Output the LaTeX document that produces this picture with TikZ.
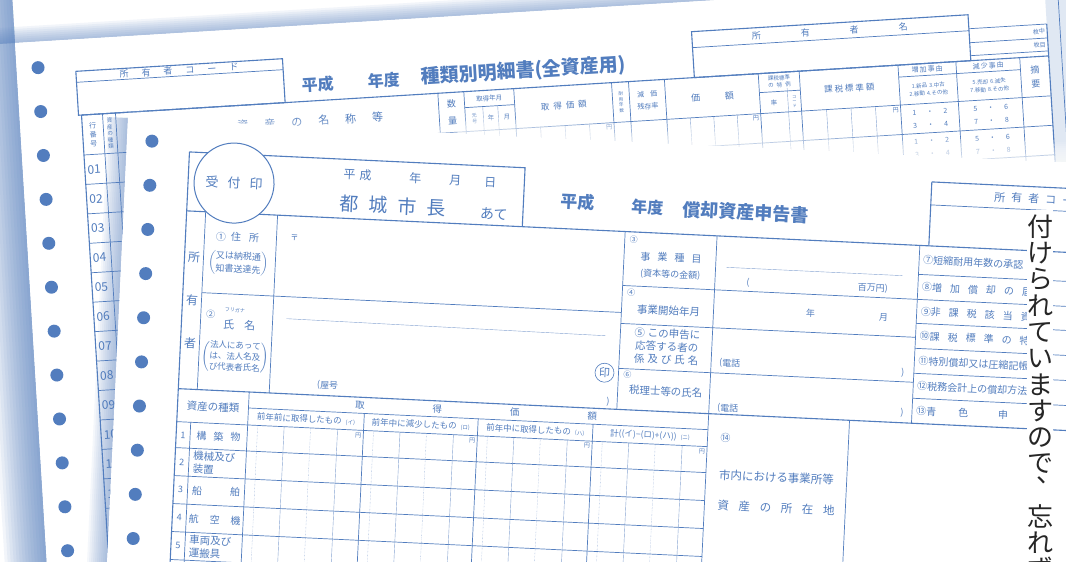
\documentclass[tikz,border=0pt]{standalone}
\usepackage{fontspec}
\setmainfont{Noto Sans CJK JP}
\definecolor{formblue}{RGB}{82,125,190}
\newcommand{\fgap}[1]{\hspace{#1}}

\begin{document}
\begin{tikzpicture}[
			x=1pt, y=-1pt,
			txt/.style={
				font=\fontsize{#1}{#1}\selectfont,
				text=formblue,
				inner sep=0pt
			},
			txt/.default=9,
			txtl/.style 2 args={
				font=\fontsize{#1}{#2}\selectfont,
				text=formblue,
				inner sep=0pt,
				align=center
			},
			frame/.style={draw=formblue, line width=1.1pt},
			rule/.style={draw=formblue, line width=0.7pt},
			fine/.style={draw=formblue!70, line width=0.4pt},
			hole/.style={fill=formblue},
			note/.style={
				font=\fontsize{26}{26}\selectfont,
				text=black!85,
				inner sep=0pt
			}]

	\useasboundingbox (0,0) rectangle (1066,562);
	\clip (0,0) rectangle (1066,562);
	\fill[white] (0,0) rectangle (1066,562);

	%%% Back sheet: detail form
	\begin{scope}[shift={(15,43)}, rotate=3.5, transform shape]
		% soft shadow along the paper edges
		\foreach \h in {2,4,...,16}
			\fill[formblue, opacity=0.07] (-60,-\h) rectangle (1200,0);
		\foreach \w in {3,6,...,42}
			\fill[formblue, opacity=0.07] (-\w,-60) rectangle (0,700);
		\fill[white] (0,0) rectangle (1200,700);

		% feed holes
		\foreach \i in {0,...,11}
			\fill[hole] (21.5,26+44*\i) circle (6.5);

		% owner code box and title
		\draw[frame] (59,32) rectangle (266,76);
		\draw[rule] (59,43) -- (266,43);
		\node[txt=9] (bcode) at (162,37.5) {所\fgap{13pt}有\fgap{13pt}者\fgap{13pt}コ\fgap{13pt}ー\fgap{13pt}ド};
		\node[txt=16] (byear) at (300,60) {\bfseries 平成};
		\node[txt=16] (bnendo) at (366,60) {\bfseries 年度};
		\node[txt=19, anchor=west] (btitle) at (403,59) {\bfseries 種類別明細書(全資産用)};

		% owner name and sheet count
		\draw[frame] (676,30) rectangle (953,76);
		\draw[rule] (676,46) -- (953,46);
		\node[txt=9] (bowner) at (814,38) {所\fgap{40pt}有\fgap{40pt}者\fgap{40pt}名};
		\draw[rule] (953,44) -- (1031,44) (953,58) -- (1031,58) (953,71) -- (1031,71);
		\node[txt=6, anchor=east] (bmaichu) at (1029,51) {枚中};
		\node[txt=6, anchor=east] (bmaime) at (1029,64.5) {枚目};
		\fill[formblue!18] (1031,-20) rectangle (1070,330);
		\draw[frame] (1031,44) -- (1031,330);
		\draw[rule] (1044,-20) -- (1044,330);
		\node[txtl={6}{7}] (bsono) at (1051,110) {そ\\の\\2};

		%%% table
		\draw[frame] (62,76) -- (1031,76);
		\draw[frame] (62,76) -- (62,700);
		\draw[rule] (62,116) -- (1031,116);
		\foreach \c in {83,96,419,445,495,593,610,646,740,781,880,938,1002}
			\draw[rule] (\c,76) -- (\c,700);
		\draw[rule] (445,92) -- (495,92) (740,95) -- (781,95) (880,88) -- (1002,88);
		\foreach \c in {463,478,768}
			\draw[fine] (\c,92) -- (\c,700);
		\foreach \c in {519.5,544,568.5,669.5,693,716.5,806,830.5,855}
			\draw[fine] (\c,116) -- (\c,700);
		\foreach \r in {1,...,20}
			\draw[rule] (62,116+29.5*\r) -- (1031,116+29.5*\r);

		% header texts
		\node[txtl={7}{9}] (bgyo) at (72.5,96) {行\\番\\号};
		\node[txtl={5.5}{6.5}] (bkind) at (89.5,96) {資\\産\\の\\種\\類};
		\node[txt=11] (bname) at (290,96) {資\fgap{16pt}産\fgap{16pt}の\fgap{16pt}名\fgap{16pt}称\fgap{16pt}等};
		\node[txtl={9}{17}] (bqty) at (432,96) {数\\量};
		\node[txt=6.5] (bym) at (470,84) {取得年月};
		\node[txtl={5}{6}] (bera) at (454,104) {元\\号};
		\node[txt=6.5] (bnen) at (470.5,104) {年};
		\node[txt=6.5] (btsuki) at (486.5,104) {月};
		\node[txt=8.5] (bcost) at (544,96) {取\fgap{4pt}得\fgap{4pt}価\fgap{4pt}額};
		\node[txtl={4.5}{5.5}] (blife) at (601.5,96) {耐\\用\\年\\数};
		\node[txtl={7}{12}] (brate) at (628,96) {減\fgap{6pt}価\\残存率};
		\node[txt=9] (bvalue) at (693,96) {価\fgap{25pt}額};
		\node[txtl={5.5}{7}] (bspecial) at (760.5,85) {課税標準\\の\fgap{3pt}特\fgap{3pt}例};
		\node[txt=6.5] (britsu) at (754,106) {率};
		\node[txtl={4}{4.5}] (bcodecol) at (774.5,106) {コ\\ー\\ド};
		\node[txt=8.5] (bbase) at (830,96) {課\fgap{2pt}税\fgap{2pt}標\fgap{2pt}準\fgap{2pt}額};
		\node[txt=7] (bup) at (909,82) {増\fgap{1pt}加\fgap{1pt}事\fgap{1pt}由};
		\node[txtl={5.5}{8}] (bupkeys) at (909,102) {1.新品\fgap{2pt}3.中古\\2.移動\fgap{2pt}4.その他};
		\node[txt=7] (bdown) at (970,82) {減\fgap{1pt}少\fgap{1pt}事\fgap{1pt}由};
		\node[txtl={5.5}{8}] (bdownkeys) at (970,102) {5.売却\fgap{2pt}6.滅失\\7.移動\fgap{2pt}8.その他};
		\node[txtl={9}{14}] (bnote) at (1016.5,96) {摘\\要};

		% rows
		\foreach \n [count=\i from 0] in {01,02,03,04,05,06,07,08,09,10,11,12}
			\node[txt=12, anchor=west] (brow\i) at (64.5,131+29.5*\i) {\n};
		\foreach \c in {593,740,880}
			\node[txt=6] (byen\c) at (\c-5,120.5) {円};
		\foreach \r in {0,...,3} {
			\node[txt=7] (bupa\r) at (909,124.5+29.5*\r) {1\fgap{10pt}・\fgap{10pt}2};
			\node[txt=7] (bupb\r) at (909,137.5+29.5*\r) {3\fgap{10pt}・\fgap{10pt}4};
			\node[txt=7] (bdna\r) at (970,124.5+29.5*\r) {5\fgap{10pt}・\fgap{10pt}6};
			\node[txt=7] (bdnb\r) at (970,137.5+29.5*\r) {7\fgap{10pt}・\fgap{10pt}8};
		}
	\end{scope}

	%%% Front sheet: the return
	\begin{scope}[shift={(128,118)}, rotate=-2.7, transform shape]
		% back sheet fades out above the top edge, shadow on the left
		\foreach \h in {2,4,...,20}
			\fill[white, opacity=0.12] (330,-\h) rectangle (1100,0);
		\foreach \h in {2,4,6,8}
			\fill[white, opacity=0.1] (0,-\h) rectangle (330,0);
		\foreach \w in {2,4,...,20}
			\fill[formblue, opacity=0.06] (-\w,0) rectangle (0,600);
		\fill[white] (0,0) rectangle (1100,600);

		\foreach \i in {0,...,10}
			\fill[hole] (25,22+44.2*\i) circle (6.5);

		%%% addressee block
		\draw[frame] (63,31) -- (399,31) -- (399,90);
		\draw[frame] (63,31) -- (63,620);
		\draw[frame] (63,90) -- (1100,90);
		\filldraw[fill=white, draw=formblue, line width=1pt] (109,60) circle (40);
		\node[txt=13] (stamp) at (109,60) {受\fgap{9pt}付\fgap{9pt}印};
		\node[txt=12] (heisei) at (232,46) {平\fgap{4pt}成};
		\node[txt=12] (nen) at (290,47) {年};
		\node[txt=12] (tsuki) at (330,47) {月};
		\node[txt=12] (hi) at (365,47) {日};
		\node[txt=19] (mayor) at (269,75) {都\fgap{10pt}城\fgap{10pt}市\fgap{10pt}長};
		\node[txt=14] (ate) at (370,79) {あて};

		\node[txt=17] (fyear) at (453,63) {\bfseries 平成};
		\node[txt=16] (fnendo) at (523,64.5) {\bfseries 年度};
		\node[txt=18, anchor=west] (ftitle) at (558,65) {\bfseries 償却資産申告書};

		%%% owner rows and items 3 to 6
		\draw[rule] (82,90) -- (82,268);
		\draw[rule] (154,90) -- (154,268);
		\draw[rule] (82,171) -- (502,171);
		\draw[frame] (63,268) -- (1100,268);
		\draw[rule] (502,90) -- (502,268);
		\draw[rule] (594,90) -- (594,620);
		\draw[rule] (797,90) -- (797,268);
		\foreach \y in {144,182,227}
			\draw[rule] (502,\y) -- (797,\y);
		\draw[fine] (605,121) -- (781,121);
		\draw[fine] (168,193) -- (487,195);

		\node[txt=12] (own1) at (72.5,136) {所};
		\node[txt=12] (own2) at (72.5,179) {有};
		\node[txt=12] (own3) at (72.5,222) {者};
		\node[txt=10] (addr) at (115,114) {①\fgap{5pt}住\fgap{8pt}所};
		\node[txtl={9}{13}] (addrnote) at (117,140) {$\left(\vcenter{\hbox{\begin{tabular}{@{}c@{}}又は納税通\\知書送達先\end{tabular}}}\right)$};
		\node[txt=8] (zip) at (172,112) {〒};
		\node[txt=9] (c2) at (92,192) {②};
		\node[txt=5] (kana) at (116,187) {フリガナ};
		\node[txt=11] (name) at (121,202) {氏\fgap{10pt}名};
		\node[txtl={8.5}{11}] (corpnote) at (118,234) {$\left(\vcenter{\hbox{\begin{tabular}{@{}c@{}}法人にあって\\は、法人名及\\び代表者氏名\end{tabular}}}\right)$};
		\node[txt=9] (yago) at (212,258) {(屋号};
		\node[txt=9] (yagoend) at (493,261) {)};
		\draw[formblue, line width=0.6pt] (488,232) circle (9.5);
		\node[txt=11] (seal) at (488,232) {印};

		\node[txt=8] (c3) at (511,98) {③};
		\node[txt=10] (gyoshu) at (549,114) {事\fgap{7pt}業\fgap{7pt}種\fgap{7pt}目};
		\node[txt=9] (capital) at (549,131) {(資本等の金額)};
		\node[txt=9] (capopen) at (627,135) {(};
		\node[txt=9] (capclose) at (752,135) {百万円)};
		\node[txt=8] (c4) at (511,151) {④};
		\node[txt=10.5] (kaishi) at (549,167) {事業開始年月};
		\node[txt=9] (knen) at (691,163) {年};
		\node[txt=9] (ktsuki) at (764,164) {月};
		\node[txtl={10.5}{13}] (contact) at (549,203) {⑤\fgap{3pt}この申告に\\応答する者の\\係\fgap{3pt}及\fgap{3pt}び\fgap{3pt}氏\fgap{3pt}名};
		\node[txt=9, anchor=west] (tel1) at (602,217) {(電話};
		\node[txt=9] (tel1end) at (786,218) {)};
		\node[txt=8] (c6) at (511,233) {⑥};
		\node[txt=10.5] (zeirishi) at (550,248) {税理士等の氏名};
		\node[txt=9, anchor=west] (tel2) at (602,262) {(電話};
		\node[txt=9] (tel2end) at (787,258) {)};

		%%% items 7 to 13 and owner code
		\foreach \y in {119,144,168,193,218,243}
			\draw[rule] (797,\y) -- (1100,\y);
		\begin{scope}
			\clip (797,90) rectangle (928,268);
			\foreach \t/\y [count=\i] in {
					⑦短縮耐用年数の承認/104.5,
					⑧増\fgap{8pt}加\fgap{8pt}償\fgap{8pt}却\fgap{8pt}の\fgap{8pt}届\fgap{8pt}出/131.5,
					⑨非\fgap{8pt}課\fgap{8pt}税\fgap{8pt}該\fgap{8pt}当\fgap{8pt}資\fgap{8pt}産/156,
					⑩課\fgap{8pt}税\fgap{8pt}標\fgap{8pt}準\fgap{8pt}の\fgap{8pt}特\fgap{8pt}例/180.5,
					⑪特別償却又は圧縮記帳/205.5,
					⑫税務会計上の償却方法/230.5,
					⑬青\fgap{22pt}色\fgap{30pt}申\fgap{30pt}告/255.5}
				\node[txt=10, anchor=west] (item\i) at (801,\y) {\t};
		\end{scope}
		\draw[frame] (806,26) -- (1100,26);
		\draw[frame] (806,26) -- (806,90);
		\draw[rule] (806,49) -- (1100,49);
		\node[txt=11, anchor=west] (fcode) at (869,38) {所\fgap{6pt}有\fgap{6pt}者\fgap{6pt}コ\fgap{6pt}ー\fgap{6pt}ド};

		%%% asset table
		\draw[rule] (134,268) -- (134,620);
		\draw[rule] (77,301) -- (77,620);
		\foreach \c in {250,364,479}
			\draw[rule] (\c,284) -- (\c,620);
		\draw[rule] (134,284) -- (594,284);
		\draw[rule] (63,301) -- (594,301);
		\foreach \y in {327,355,383,411,439,467}
			\draw[rule] (63,\y) -- (594,\y);
		\foreach \c in {134,250,364,479} {
			\foreach \d in {10,63}
				\draw[fine, densely dotted] (\c+\d,301) -- (\c+\d,620);
			\foreach \d in {36.5,90}
				\draw[fine] (\c+\d,301) -- (\c+\d,620);
		}
		\foreach \c in {250,364,479,594}
			\node[txt=6] (yen\c) at (\c-5,306) {円};

		\node[txt=10.5] (kind) at (98.5,284.5) {資産の種類};
		\node[txt=9.5] (cost) at (361.5,276) {取\fgap{68pt}得\fgap{68pt}価\fgap{68pt}額};
		\node[txt=8.5] (colA) at (192,292.5) {前年前に取得したもの\fgap{4pt}{\fontsize{5.5}{5.5}\selectfont(イ)}};
		\node[txt=8.5] (colB) at (307,292.5) {前年中に減少したもの\fgap{4pt}{\fontsize{5.5}{5.5}\selectfont(ロ)}};
		\node[txt=8.5] (colC) at (421.5,292.5) {前年中に取得したもの\fgap{4pt}{\fontsize{5.5}{5.5}\selectfont(ハ)}};
		\node[txt=8.5] (colD) at (536.5,292.5) {計((イ)−(ロ)+(ハ))\fgap{4pt}{\fontsize{5.5}{5.5}\selectfont(ニ)}};

		\foreach \n/\y in {1/314,2/341,3/369,4/397,5/425}
			\node[txt=9] (no\n) at (70,\y) {\n};
		\node[txt=10] (kind1) at (105.5,314) {構\fgap{7pt}築\fgap{7pt}物};
		\node[txtl={10.5}{13}, align=left, anchor=west] (kind2) at (81,341) {機械及び\\装置};
		\node[txt=10] (kind3) at (105.5,369) {船\fgap{28pt}舶};
		\node[txt=10] (kind4) at (105.5,397) {航\fgap{11pt}空\fgap{11pt}機};
		\node[txtl={10.5}{13}, align=left, anchor=west] (kind5) at (81,425) {車両及び\\運搬具};

		%%% item 14
		\draw[rule] (735,268) -- (735,620);
		\node[txt=10] (c14) at (612,291) {⑭};
		\node[txt=11.5, anchor=west] (office) at (607,328.5) {市内における事業所等};
		\node[txt=11.5, anchor=west] (place) at (607,359) {資\fgap{9.6pt}産\fgap{9.6pt}の\fgap{9.6pt}所\fgap{9.6pt}在\fgap{9.6pt}地};
	\end{scope}

	%%% vertical caption on the right
	\fill[white] (1027,210) rectangle (1053,562);
	\foreach \i/\ch in {0/付,1/け,2/ら,3/れ,4/て,5/い,6/ま,7/す,8/の,9/で,11/忘,12/れ,13/ず}
		\node[note] (v\i) at (1040,227+26.3*\i) {\ch};
	\node[note] (vcomma) at (1049,480) {、};

\end{tikzpicture}
\end{document}
